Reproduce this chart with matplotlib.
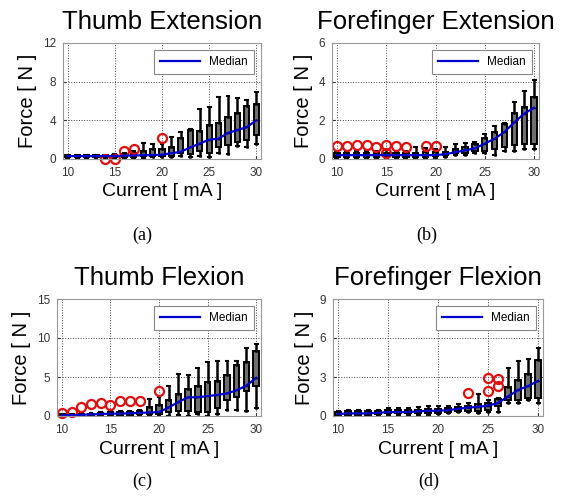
import numpy as np
import matplotlib
matplotlib.use("Agg")
import matplotlib.pyplot as plt

plt.rcParams['font.family'] = ['Liberation Sans', 'DejaVu Sans']

# stimulation current [mA], one box per level
current = list(range(10, 31))

# (a) Thumb Extension
med_a = [0.3, 0.3, 0.3, 0.3, 0.3, 0.3, 0.35, 0.35, 0.4, 0.4, 0.45, 0.6, 0.75, 1.2, 1.6, 2.0, 2.1, 2.7, 3.0, 3.3, 4.0]
q1_a = [0.2, 0.2, 0.2, 0.2, 0.2, 0.2, 0.2, 0.2, 0.3, 0.3, 0.3, 0.3, 0.6, 0.5, 0.8, 0.6, 1.2, 1.4, 1.8, 2.0, 2.5]
q3_a = [0.4, 0.4, 0.4, 0.4, 0.4, 0.45, 0.5, 0.6, 0.8, 1.0, 1.0, 1.2, 2.2, 3.0, 2.9, 3.5, 3.7, 4.3, 4.8, 5.5, 5.7]
lo_a = [0.15, 0.15, 0.15, 0.15, 0.15, 0.15, 0.15, 0.15, 0.15, 0.2, 0.2, 0.2, 0.3, 0.2, 0.3, 0.2, 0.6, 0.5, 1.3, 1.2, 1.5]
hi_a = [0.45, 0.45, 0.45, 0.45, 0.45, 0.5, 0.6, 0.8, 1.7, 1.5, 1.6, 2.3, 2.8, 3.1, 5.2, 5.4, 6.4, 6.5, 6.3, 6.1, 6.9]
out_a = {14: [0.0], 15: [0.0], 16: [0.85], 17: [1.05], 20: [2.15]}

# (b) Forefinger Extension
med_b = [0.2, 0.2, 0.2, 0.2, 0.2, 0.2, 0.2, 0.2, 0.2, 0.2, 0.2, 0.25, 0.35, 0.45, 0.55, 0.8, 1.05, 1.4, 1.9, 2.35, 2.65]
q1_b = [0.1, 0.1, 0.1, 0.1, 0.1, 0.1, 0.1, 0.1, 0.1, 0.1, 0.15, 0.2, 0.3, 0.3, 0.4, 0.4, 0.5, 0.6, 0.7, 0.8, 0.8]
q3_b = [0.3, 0.3, 0.3, 0.3, 0.3, 0.3, 0.3, 0.3, 0.3, 0.35, 0.35, 0.35, 0.5, 0.6, 0.8, 1.1, 1.4, 1.8, 2.4, 2.7, 3.2]
lo_b = [0.05, 0.05, 0.05, 0.05, 0.05, 0.05, 0.05, 0.05, 0.05, 0.05, 0.05, 0.1, 0.2, 0.2, 0.3, 0.3, 0.2, 0.4, 0.4, 0.5, 0.5]
hi_b = [0.4, 0.4, 0.4, 0.4, 0.4, 0.45, 0.4, 0.4, 0.6, 0.55, 0.5, 0.6, 0.8, 0.85, 0.9, 1.3, 1.7, 1.85, 2.95, 3.5, 4.1]
out_b = {10: [0.68], 11: [0.66], 12: [0.72], 13: [0.72], 14: [0.62], 15: [0.74, 0.32],
         16: [0.68], 17: [0.64], 19: [0.66], 20: [0.66]}

# (c) Thumb Flexion
med_c = [0.1, 0.1, 0.15, 0.2, 0.25, 0.3, 0.3, 0.35, 0.4, 0.45, 0.5, 1.1, 1.8, 2.4, 2.4, 2.55, 2.7, 2.9, 3.3, 3.9, 4.9]
q1_c = [0.05, 0.05, 0.05, 0.1, 0.1, 0.1, 0.15, 0.15, 0.2, 0.3, 0.3, 0.5, 0.6, 0.7, 0.5, 0.5, 1.0, 2.0, 2.5, 3.2, 3.9]
q3_c = [0.2, 0.2, 0.25, 0.3, 0.4, 0.45, 0.5, 0.5, 0.6, 1.2, 1.4, 2.0, 2.8, 3.5, 3.9, 4.3, 4.5, 5.2, 6.6, 6.9, 8.3]
lo_c = [0.0, 0.0, 0.0, 0.0, 0.0, 0.0, 0.0, 0.0, 0.0, 0.1, 0.1, 0.0, 0.1, 0.0, 0.2, 0.0, 0.3, 0.8, 0.8, 0.6, 1.0]
hi_c = [0.3, 0.3, 0.35, 0.4, 0.5, 0.6, 0.7, 0.7, 0.8, 2.2, 2.4, 3.8, 5.4, 5.2, 6.2, 6.9, 7.0, 7.0, 7.0, 8.7, 9.2]
out_c = {10: [0.35], 11: [0.45], 12: [1.15], 13: [1.55], 14: [1.65], 15: [1.4],
         16: [1.9], 17: [1.9], 18: [1.9], 20: [3.15]}

# (d) Forefinger Flexion
med_d = [0.15, 0.2, 0.2, 0.2, 0.25, 0.3, 0.3, 0.3, 0.35, 0.4, 0.4, 0.45, 0.55, 0.65, 0.7, 0.8, 1.0, 1.5, 2.0, 2.3, 2.7]
q1_d = [0.05, 0.1, 0.1, 0.1, 0.15, 0.2, 0.2, 0.2, 0.2, 0.25, 0.25, 0.3, 0.4, 0.4, 0.4, 0.5, 0.8, 1.2, 1.2, 1.4, 1.4]
q3_d = [0.3, 0.35, 0.35, 0.35, 0.4, 0.45, 0.45, 0.45, 0.5, 0.55, 0.55, 0.6, 0.7, 0.8, 0.9, 1.0, 1.3, 2.2, 2.8, 3.2, 4.3]
lo_d = [0.0, 0.05, 0.05, 0.05, 0.1, 0.1, 0.1, 0.1, 0.1, 0.1, 0.15, 0.2, 0.3, 0.3, 0.2, 0.3, 0.3, 1.0, 1.0, 1.2, 1.0]
hi_d = [0.4, 0.5, 0.5, 0.45, 0.5, 0.6, 0.6, 0.6, 0.7, 0.8, 0.8, 0.8, 0.9, 1.0, 1.7, 1.2, 1.4, 3.7, 4.2, 4.4, 5.2]
out_d = {23: [1.75], 25: [2.95, 1.9], 26: [2.85, 2.3]}

W, H = 568, 503
fig = plt.figure(figsize=(W / 100, H / 100), dpi=100)


def px_axes(left, top, right, bottom):
    return fig.add_axes([left / W, 1 - bottom / H, (right - left) / W, (bottom - top) / H])


def panel(ax, title, med, q1, q3, lo, hi, outl, ymax, yticks):
    stats = []
    for i, x in enumerate(current):
        stats.append(dict(med=med[i], q1=q1[i], q3=q3[i], whislo=lo[i], whishi=hi[i],
                          fliers=outl.get(x, [])))
    ax.bxp(stats, positions=current, widths=0.55, patch_artist=True,
           boxprops=dict(facecolor='#6e6e6e', edgecolor='black', linewidth=1.4),
           whiskerprops=dict(color='black', linewidth=1.8),
           capprops=dict(color='black', linewidth=1.5),
           medianprops=dict(color='black', linewidth=1.0),
           flierprops=dict(marker='o', markerfacecolor='none', markeredgecolor='#e01010',
                           markersize=6.5, markeredgewidth=1.6, clip_on=False),
           capwidths=0.3, manage_ticks=False, zorder=2)
    ax.plot(current, med, color='#0000d0', linewidth=1.6, zorder=3, label='Median')
    ax.set_xlim(9.5, 30.5)
    ax.set_ylim(0, ymax)
    ax.set_xticks([10, 15, 20, 25, 30])
    ax.set_yticks(yticks)
    ax.tick_params(direction='in', length=2, labelsize=8.5, colors='#333333')
    ax.tick_params(axis='x', pad=6)
    ax.tick_params(axis='y', pad=5)
    ax.grid(True, linestyle=':', color='#444444', linewidth=0.7, zorder=0)
    ax.set_axisbelow(True)
    for s in ax.spines.values():
        s.set_color('#999999')
    ax.set_title(title, fontsize=18.5, pad=10)
    ax.set_xlabel('Current [ mA ]', fontsize=14, labelpad=3)
    ax.set_ylabel('Force [ N ]', fontsize=14.5, labelpad=4)
    leg = ax.legend(loc='upper right', fontsize=8.5, handlelength=3.4, fancybox=False,
                    borderaxespad=0.6, borderpad=0.5, framealpha=1)
    leg.get_frame().set_edgecolor('#888888')
    leg.get_frame().set_linewidth(0.8)


ax_a = px_axes(63, 43, 261, 159)
ax_b = px_axes(332, 43, 539, 159)
ax_c = px_axes(57, 299, 261, 416)
ax_d = px_axes(333, 299, 543, 416)

panel(ax_a, 'Thumb Extension', med_a, q1_a, q3_a, lo_a, hi_a, out_a, 12, [0, 4, 8, 12])
panel(ax_b, 'Forefinger Extension', med_b, q1_b, q3_b, lo_b, hi_b, out_b, 6, [0, 2, 4, 6])
panel(ax_c, 'Thumb Flexion', med_c, q1_c, q3_c, lo_c, hi_c, out_c, 15, [0, 5, 10, 15])
panel(ax_d, 'Forefinger Flexion', med_d, q1_d, q3_d, lo_d, hi_d, out_d, 9, [0, 3, 6, 9])

for lab, x, y in [('(a)', 142, 235), ('(b)', 427, 235), ('(c)', 142, 481), ('(d)', 429, 481)]:
    fig.text(x / W, 1 - y / H, lab, ha='center', va='center', fontsize=13,
             family=['Liberation Serif', 'DejaVu Serif'])

fig.savefig('out.png', dpi=100)
